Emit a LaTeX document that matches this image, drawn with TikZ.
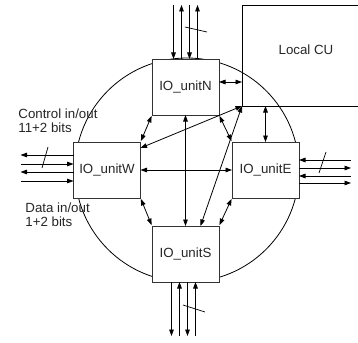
\documentclass[tikz,border=0pt]{standalone}
\usepackage{fontspec}
\setmainfont{Liberation Sans}
\usetikzlibrary{arrows.meta,calc}
\begin{document}
\begin{tikzpicture}[x=1pt,y=-1pt,
  line width=0.8pt,
  >={Triangle[length=6.5pt,width=4.6pt]},
  lbl/.style={font=\fontsize{13.3}{15}\selectfont, text=black!85, inner sep=0pt},
  unitbox/.style={lbl, draw=black!80, fill=white, minimum width=67pt, minimum height=56pt, outer sep=0pt},
  link/.style={<->},
  slashmark/.style={line width=0.7pt}
]
\useasboundingbox (0,0) rectangle (358,342);
% ring
\draw (187,170) circle[radius=112pt];
% local control unit
\draw (358,5) -- (242,5) -- (242,106) -- (358,106);
\coordinate (cuc) at (242,106);
\coordinate (cuw) at (242,82);
\node[lbl] (cu) at (306,50) {Local CU};
% IO units
\node[unitbox] (N) at (185.5,87) {IO\_unitN};
\node[unitbox] (W) at (107,170) {IO\_unitW};
\node[unitbox] (E) at (265.5,170) {IO\_unitE};
\node[unitbox] (S) at (185.5,254) {IO\_unitS};
% internal links
\draw[link] ([yshift=5pt]N.east) -- (cuw);
\draw[link] (E.north) -- (E.north |- cuc);
\draw[link] (cuc) -- ([yshift=-6pt]W.north east);
\draw[link] (cuc) -- ([xshift=15pt]S.north);
\draw[link, shorten >=1pt, shorten <=1pt] (N.south east) -- (E.north west);
\draw[link, shorten >=1pt, shorten <=1pt] (N.south west) -- (W.north east);
\draw[link, shorten >=1pt, shorten <=1pt] (W.south east) -- (S.north west);
\draw[link, shorten >=1pt, shorten <=1pt] (E.south west) -- (S.north east);
\draw[link] (N.south) -- (S.north);
\draw[link] (W.east) -- (E.west);
% external ports
\foreach \dx/\tip in {-12/<-, -4/->, 4/<-, 12/->}
  \draw[\tip] ([xshift=\dx pt]N.north) -- ++(0,-54);
\foreach \dx/\tip in {-14/->, -6/<-, 2/->, 10/<-}
  \draw[\tip] ([xshift=\dx pt]S.south) -- ++(0,54);
\foreach \dy/\tip in {15/->, 6/<-, -2/->, -11/<-}
  \draw[\tip] ([yshift=\dy pt]W.west) -- ++(-53,0);
\foreach \dy/\tip in {10/<-, 2/->, -6/<-, -13/->}
  \draw[\tip] ([yshift=\dy pt]E.east) -- ++(52,0);
% bus width marks
\draw[slashmark] (185,27) -- (207,32);
\draw[slashmark] (183,305) -- (205,312);
\draw[slashmark] (42,168) -- (48,147);
\draw[slashmark] (319,173) -- (326,152);
% side labels
\node[lbl, anchor=base west] (ctl1) at (18,118.5) {Control in/out};
\node[lbl, anchor=base west] (ctl2) at (18,132.5) {11+2 bits};
\node[lbl, anchor=base west] (dat1) at (25,212) {Data in/out};
\node[lbl, anchor=base west] (dat2) at (25,226) {1+2 bits};
\end{tikzpicture}
\end{document}
